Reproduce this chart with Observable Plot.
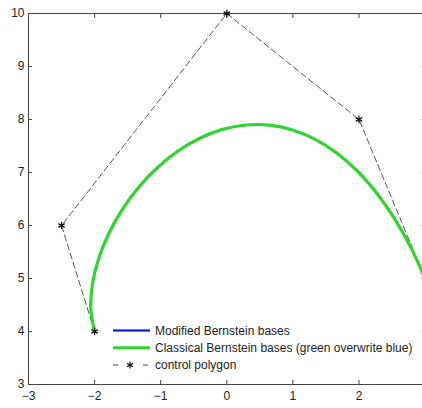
<!DOCTYPE html>
<html>
<head>
<meta charset="utf-8">
<script src="https://cdn.jsdelivr.net/npm/d3@7"></script>
<script src="https://cdn.jsdelivr.net/npm/@observablehq/plot@0.6"></script>
<style>
  html, body { margin: 0; padding: 0; background: #fff; overflow: hidden; }
  #wrap { position: relative; width: 422px; height: 408px; overflow: hidden; }
  #legend { position: absolute; left: 0; top: 0; pointer-events: none; }
</style>
</head>
<body>
<div id="wrap"></div>
<script>
// Control polygon vertices
const ctrlX = [-2, -2.5, 0, 2, 3];
const ctrlY = [4, 6, 10, 8, 5];

// Curve points (Bernstein curve)
const curveX = [-2.000, -2.057, -2.034, -1.941, -1.787, -1.582, -1.334, -1.050, -0.739, -0.408, -0.063,
                 0.290, 0.645, 0.996, 1.338, 1.668, 1.981, 2.273, 2.542, 2.785, 3.000];
const curveY = [4.000, 4.426, 4.889, 5.369, 5.845, 6.301, 6.721, 7.093, 7.405, 7.647, 7.813,
                7.896, 7.893, 7.803, 7.625, 7.363, 7.021, 6.604, 6.121, 5.583, 5.000];

const xTicks = [-3, -2, -1, 0, 1, 2, 3];
const yTicks = [3, 4, 5, 6, 7, 8, 9, 10];

const legendLabels = ["Modified Bernstein bases", "Classical Bernstein bases (green overwrite blue)", "control polygon"];

const ctrl = ctrlX.map((x, i) => ({x, y: ctrlY[i]}));
const curve = curveX.map((x, i) => ({x, y: curveY[i]}));

const axisColor = "#444";
const fmt = d => d < 0 ? "\u2212" + Math.abs(d) : String(d);

const plot = Plot.plot({
  width: 430,
  height: 408,
  marginLeft: 28,
  marginRight: 5.4,
  marginTop: 13,
  marginBottom: 24,
  style: {fontFamily: "'Liberation Sans', Arial, sans-serif", fontSize: "12px", maxWidth: "none", color: "#222", background: "#fff"},
  x: {domain: [-3, 3]},
  y: {domain: [3, 10]},
  marks: [
    // inward ticks
    Plot.axisX({anchor: "bottom", ticks: xTicks, tickSize: -4, text: null, label: null, stroke: axisColor}),
    Plot.axisX({anchor: "top", ticks: xTicks, tickSize: -4, text: null, label: null, stroke: axisColor}),
    Plot.axisY({anchor: "left", ticks: yTicks, tickSize: -4, text: null, label: null, stroke: axisColor}),
    Plot.axisY({anchor: "right", ticks: yTicks, tickSize: -4, text: null, label: null, stroke: axisColor}),
    // labels
    Plot.axisX({anchor: "bottom", ticks: xTicks, tickSize: 0, tickPadding: 7, tickFormat: fmt, fill: "#222", label: null}),
    Plot.axisY({anchor: "left", ticks: yTicks, tickSize: 0, tickPadding: 4, tickFormat: fmt, fill: "#222", label: null}),
    Plot.frame({stroke: axisColor, strokeWidth: 1}),
    // control polygon
    Plot.line(ctrl, {x: "x", y: "y", stroke: "#555", strokeWidth: 1, strokeDasharray: "6,3.5"}),
    // curves (blue under green)
    Plot.line(curve, {x: "x", y: "y", stroke: "#0000ee", strokeWidth: 2, curve: "catmull-rom"}),
    Plot.line(curve, {x: "x", y: "y", stroke: "#2ed62e", strokeWidth: 3.2, curve: "catmull-rom"}),
    Plot.dot(ctrl, {x: "x", y: "y", symbol: "asterisk", r: 3.5, stroke: "#111", strokeWidth: 1.2})
  ]
});

const wrap = document.getElementById("wrap");
wrap.appendChild(plot);

// Legend overlay
const ns = "http://www.w3.org/2000/svg";
const lg = document.createElementNS(ns, "svg");
lg.setAttribute("id", "legend");
lg.setAttribute("width", 422);
lg.setAttribute("height", 408);
const rows = [330.5, 347.8, 365];
const styles = [
  {stroke: "#0000ee", width: 2.2, dash: null},
  {stroke: "#2ed62e", width: 3, dash: null},
  {stroke: "#444", width: 1, dash: "5,25"}
];
rows.forEach((ry, i) => {
  const s = styles[i];
  const ln = document.createElementNS(ns, "line");
  ln.setAttribute("x1", 113); ln.setAttribute("x2", i === 2 ? 148 : 150);
  ln.setAttribute("y1", ry); ln.setAttribute("y2", ry);
  ln.setAttribute("stroke", s.stroke);
  ln.setAttribute("stroke-width", s.width);
  if (s.dash) ln.setAttribute("stroke-dasharray", s.dash);
  lg.appendChild(ln);
  if (i === 2) {
    const sym = document.createElementNS(ns, "path");
    sym.setAttribute("d", d3.symbol(d3.symbolAsterisk, 36)());
    sym.setAttribute("transform", `translate(130,${ry})`);
    sym.setAttribute("stroke", "#111");
    sym.setAttribute("stroke-width", 1.2);
    sym.setAttribute("fill", "none");
    lg.appendChild(sym);
  }
  const t = document.createElementNS(ns, "text");
  t.setAttribute("x", 155);
  t.setAttribute("y", ry);
  t.setAttribute("dy", "0.35em");
  t.setAttribute("font-family", "'Liberation Sans', Arial, sans-serif");
  t.setAttribute("font-size", "12px");
  t.setAttribute("fill", "#222");
  t.textContent = legendLabels[i];
  lg.appendChild(t);
});
wrap.appendChild(lg);
</script>
</body>
</html>
